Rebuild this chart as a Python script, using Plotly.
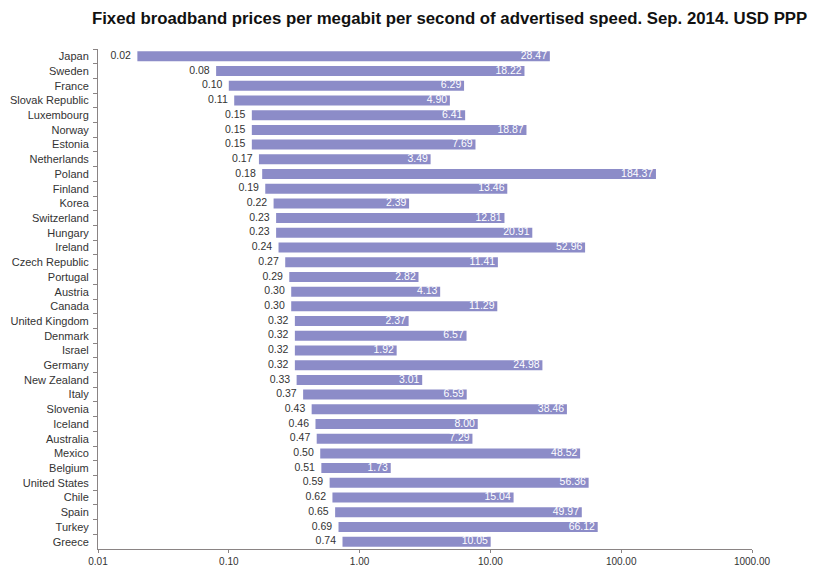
import plotly.graph_objects as go

countries = ["Japan", "Sweden", "France", "Slovak Republic", "Luxembourg", "Norway",
             "Estonia", "Netherlands", "Poland", "Finland", "Korea", "Switzerland",
             "Hungary", "Ireland", "Czech Republic", "Portugal", "Austria", "Canada",
             "United Kingdom", "Denmark", "Israel", "Germany", "New Zealand", "Italy",
             "Slovenia", "Iceland", "Australia", "Mexico", "Belgium", "United States",
             "Chile", "Spain", "Turkey", "Greece"]
min_price = [0.02, 0.08, 0.10, 0.11, 0.15, 0.15, 0.15, 0.17, 0.18, 0.19, 0.22, 0.23,
             0.23, 0.24, 0.27, 0.29, 0.30, 0.30, 0.32, 0.32, 0.32, 0.32, 0.33, 0.37,
             0.43, 0.46, 0.47, 0.50, 0.51, 0.59, 0.62, 0.65, 0.69, 0.74]
max_price = [28.47, 18.22, 6.29, 4.90, 6.41, 18.87, 7.69, 3.49, 184.37, 13.46, 2.39, 12.81,
             20.91, 52.96, 11.41, 2.82, 4.13, 11.29, 2.37, 6.57, 1.92, 24.98, 3.01, 6.59,
             38.46, 8.00, 7.29, 48.52, 1.73, 56.36, 15.04, 49.97, 66.12, 10.05]
tick_vals = [0.01, 0.1, 1, 10, 100, 1000]
tick_text = ["0.01", "0.10", "1.00", "10.00", "100.00", "1000.00"]

bar_color = "rgb(140,140,200)"
axis_color = "#8a8484"
font_family = "Liberation Sans, Arial, sans-serif"
n = len(countries)

fig = go.Figure()

# Range bars: from the cheapest to the most expensive offer
fig.add_trace(go.Bar(
    y=countries,
    x=[hi - lo for lo, hi in zip(min_price, max_price)],
    base=min_price,
    orientation="h",
    marker=dict(color=bar_color, line=dict(width=0)),
    width=0.68,
    hoverinfo="skip",
))

# Minimum labels left of each bar
fig.add_trace(go.Scatter(
    y=countries, x=[v / 1.12 for v in min_price], mode="text",
    text=[f"{v:.2f}" for v in min_price],
    textposition="middle left",
    textfont=dict(family=font_family, size=10.5, color="#333333"),
    hoverinfo="skip",
))

# Maximum labels inside the bar end
fig.add_trace(go.Scatter(
    y=countries, x=[v / 1.05 for v in max_price], mode="text",
    text=[f"{v:.2f}" for v in max_price],
    textposition="middle left",
    textfont=dict(family=font_family, size=10.5, color="white"),
    hoverinfo="skip",
))

fig.update_layout(
    width=813, height=567,
    margin=dict(l=98, r=61, t=49, b=18),
    paper_bgcolor="white", plot_bgcolor="white",
    showlegend=False,
    title=dict(
        text="<b>Fixed broadband prices per megabit per second of advertised speed. Sep. 2014. USD PPP</b>",
        x=0.553, xanchor="center", y=0.968, yanchor="middle",
        font=dict(family=font_family, size=16.8, color="#111111"),
    ),
    xaxis=dict(
        type="log", range=[-2, 3],
        tickvals=tick_vals, ticktext=tick_text,
        ticks="outside", ticklen=3, tickcolor=axis_color,
        showline=True, linecolor=axis_color, linewidth=1,
        showgrid=False, zeroline=False,
        tickfont=dict(family=font_family, size=10, color="#333333"),
        automargin=False,
    ),
    yaxis=dict(
        categoryorder="array", categoryarray=countries,
        range=[n - 0.5, -0.5],
        ticks="outside", ticklen=4, tickcolor=axis_color, tickson="boundaries",
        ticklabelstandoff=6,
        showline=True, linecolor=axis_color, linewidth=1,
        showgrid=False, zeroline=False,
        tickfont=dict(family=font_family, size=11, color="#333333"),
        automargin=False,
    ),
)

fig.write_html("out.html")
